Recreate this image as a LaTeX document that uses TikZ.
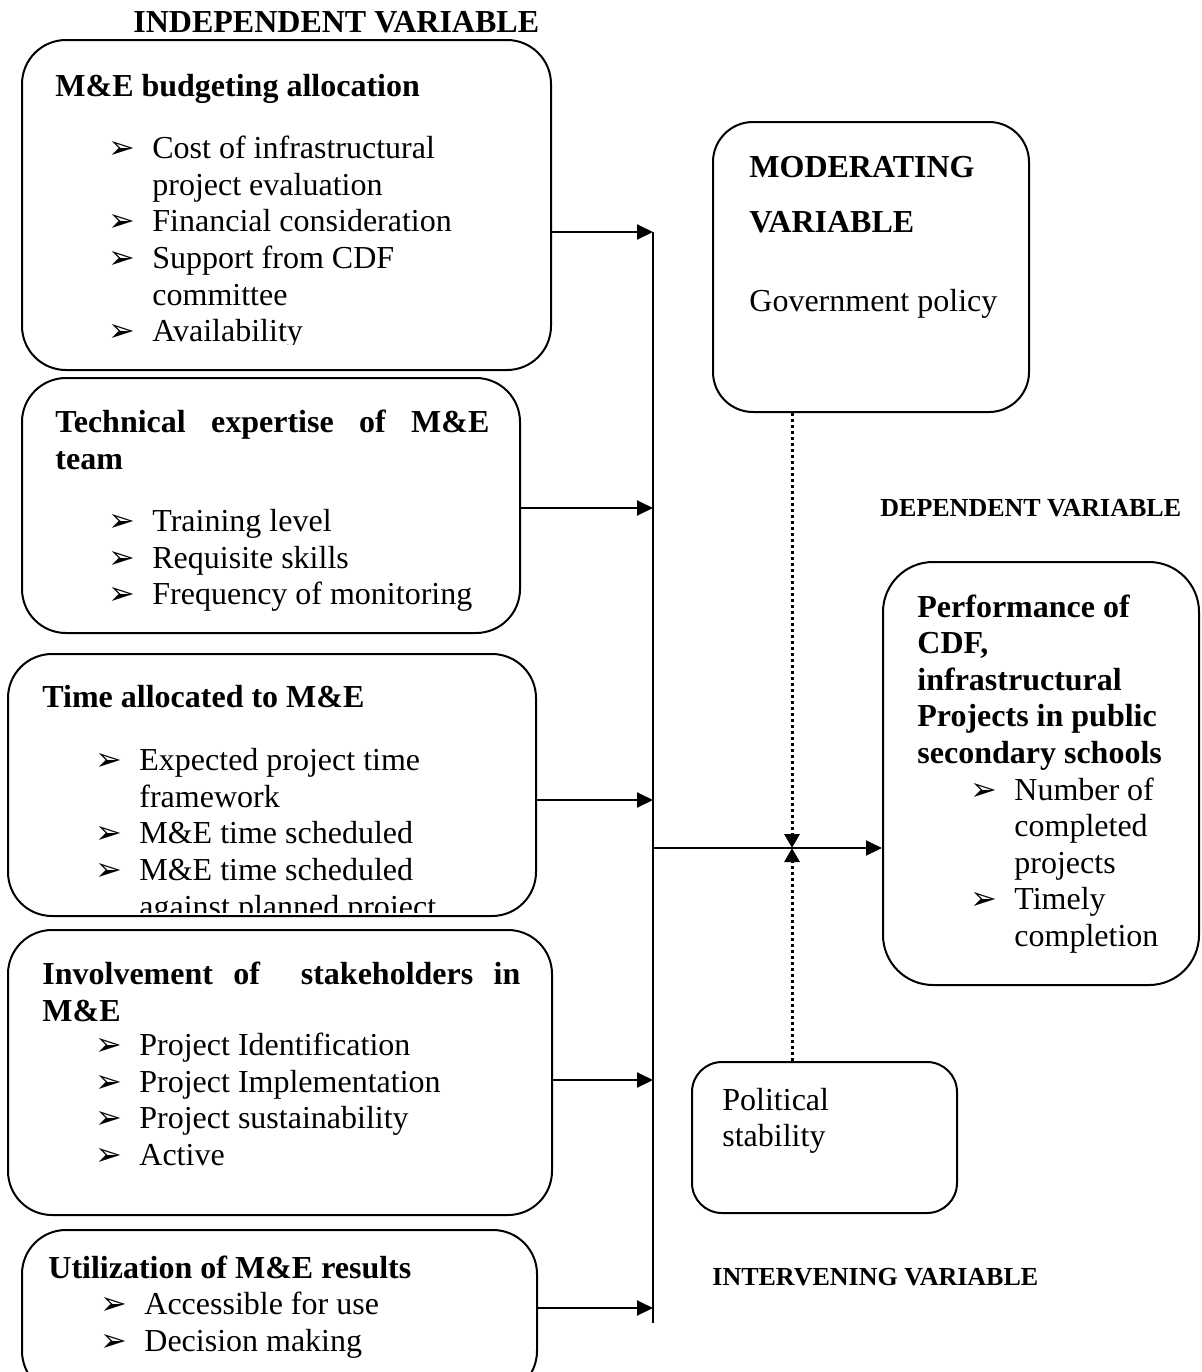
\documentclass[tikz,border=0pt]{standalone}
\usepackage{fontspec}
\setmainfont{Liberation Serif}
\newfontfamily\dingfont{DejaVu Sans}
\usetikzlibrary{arrows.meta,fit}

\newcommand{\bul}{\makebox[22pt][l]{\dingfont\fontsize{16}{16}\selectfont ➢}}
\newcommand{\ind}{\hspace*{22pt}}

\tikzset{
  varbox/.style={draw, line width=1pt, rounded corners=22pt, inner sep=0pt},
  headtxt/.style={anchor=base west, inner sep=0pt, align=left, font=\fontsize{16}{18.3}\selectfont\bfseries},
  listtxt/.style={anchor=base west, inner sep=0pt, align=left, font=\fontsize{16}{18.3}\selectfont},
  captxt/.style={anchor=base west, inner sep=0pt, font=\fontsize{13}{15}\selectfont\bfseries},
  arr/.style={line width=1pt, -{Triangle[length=8pt,width=7.5pt]}},
  dotarr/.style={line width=1.5pt, dash pattern=on 1.5pt off 1.5pt, -{Triangle[length=7pt,width=7.5pt]}}
}

\begin{document}
\begin{tikzpicture}[x=0.5pt, y=-0.5pt]
  \useasboundingbox (0,0) rectangle (1201,1372);

  % boxes
  \node[varbox, fit={(22,40) (551,370)}] (b1) {};
  \node[varbox, fit={(22,378) (520,633)}] (b2) {};
  \node[varbox, fit={(8,654) (536,916)}] (b3) {};
  \node[varbox, fit={(8,930) (552,1215)}] (b4) {};
  \node[varbox, fit={(22,1230) (537,1395)}] (b5) {};
  \node[varbox, rounded corners=20pt, fit={(713,122) (1029,412)}] (mod) {};
  \node[varbox, rounded corners=15pt, fit={(692,1062) (957,1213)}] (pol) {};
  \node[varbox, rounded corners=25pt, fit={(883,562) (1199,985)}] (dep) {};

  % captions
  \node[captxt, font=\fontsize{16}{18}\selectfont\bfseries] (tind) at (133,32.6) {INDEPENDENT VARIABLE};
  \node[captxt] (tdep) at (880,516.6) {DEPENDENT VARIABLE};
  \node[captxt] (tint) at (712,1285) {INTERVENING VARIABLE};

  % independent variables (y = baseline of last line)
  \node[headtxt] (b1h) at (55,96) {M\&E budgeting allocation};
  \begin{scope}
    \clip (0,0) rectangle (600,344);
    \node[listtxt] (b1l) at (108,341.6) {\bul Cost of infrastructural\\ \ind project evaluation\\ \bul Financial consideration\\ \bul Support from CDF\\ \ind committee\\ \bul Availability};
  \end{scope}

  \node[headtxt] (b2h) at (55,469.2) {\makebox[217pt][s]{Technical expertise of M\&E}\\team};
  \node[listtxt] (b2l) at (108,604.8) {\bul Training level\\ \bul Requisite skills\\ \bul Frequency of monitoring};

  \node[headtxt] (b3h) at (42,707.6) {Time allocated to M\&E};
  \begin{scope}
    \clip (0,640) rectangle (600,912);
    \node[listtxt] (b3l) at (95,917) {\bul Expected project time\\ \ind framework\\ \bul M\&E time scheduled\\ \bul M\&E time scheduled\\ \ind against planned project};
  \end{scope}

  \node[headtxt] (b4h) at (42,1021.2) {\makebox[239pt][s]{Involvement of \ stakeholders in}\\M\&E};
  \node[listtxt] (b4l) at (95,1165.4) {\bul Project Identification\\ \bul Project Implementation\\ \bul Project sustainability\\ \bul Active};

  \node[headtxt] (b5h) at (48,1278.6) {Utilization of M\&E results};
  \node[listtxt] (b5l) at (100,1351.2) {\bul Accessible for use\\ \bul Decision making};

  % moderating, intervening, dependent
  \node[headtxt] (modh) at (749,232.5) {MODERATING\\[9pt]VARIABLE};
  \node[listtxt] (modl) at (749,311) {Government policy};
  \node[listtxt] (poll) at (722,1146.6) {Political\\stability};
  \node[headtxt] (deph) at (917,763.4) {Performance of\\CDF,\\infrastructural\\Projects in public\\secondary schools};
  \node[listtxt] (depl) at (970,946.4) {\bul Number of\\ \ind completed\\ \ind projects\\ \bul Timely\\ \ind completion};

  % connectors
  \coordinate (jtop) at (653,232);
  \coordinate (jbot) at (653,1323);
  \draw[line width=1pt] (jtop) -- (jbot);
  \foreach \b/\y in {b1/232, b2/508, b3/800, b4/1080, b5/1308}{
    \coordinate (j\b) at (653,\y);
    \draw[arr] (\b.east |- j\b) -- (j\b);
  }
  \coordinate (jmid) at (653,848);
  \draw[arr] (jmid) -- (dep.west |- jmid);
  \coordinate (meet) at (792,848);
  \draw[dotarr] (mod.south -| meet) -- (meet);
  \draw[dotarr] (pol.north -| meet) -- (meet);
\end{tikzpicture}
\end{document}
